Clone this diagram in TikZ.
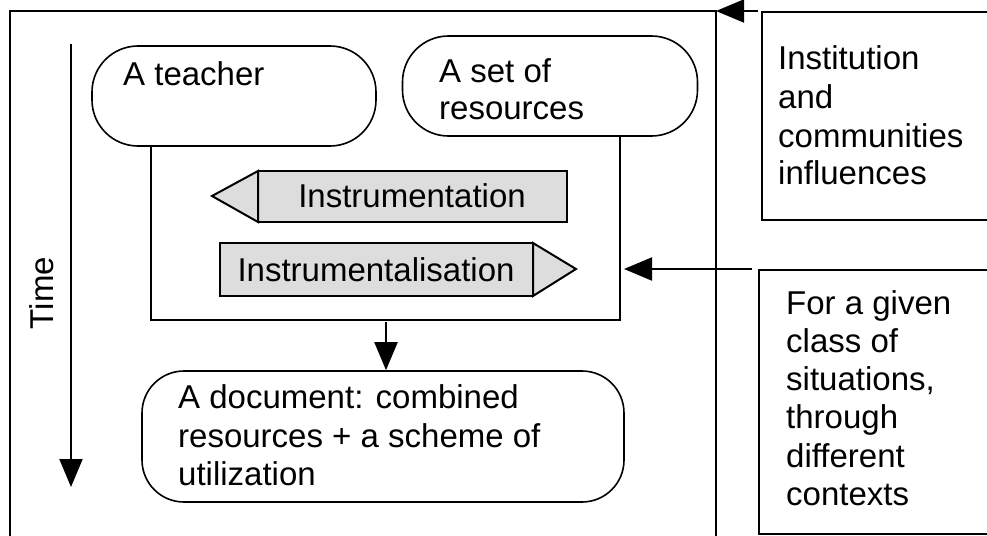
\documentclass[tikz,border=0pt]{standalone}
\usepackage{fontspec}
\setmainfont{Liberation Sans}
\usetikzlibrary{arrows.meta}
\definecolor{boxgray}{RGB}{221,221,221}
\begin{document}
\begin{tikzpicture}[x=1pt,y=-1pt,
  line/.style={line width=2pt},
  pill/.style={draw, line width=1.6pt, rounded corners=#1, inner sep=0pt},
  plainbox/.style={draw, line width=2pt, inner sep=0pt},
  txt/.style={inner sep=0pt, anchor=base west, font=\fontsize{33}{38.5}\selectfont, align=left},
  ctxt/.style={inner sep=0pt, font=\fontsize{33}{38.5}\selectfont},
  tip/.style={-{Triangle[length=28pt,width=23pt]}},
  shade/.style={draw, line width=2pt, fill=boxgray, line join=miter}
]
\useasboundingbox (0,0) rectangle (987,535);
\clip (0,0) rectangle (987,535);

% outer frame
\coordinate (fbl) at (10,545);
\coordinate (ftl) at (10,11);
\coordinate (ftr) at (716,11);
\coordinate (fbr) at (716,545);
\draw[line] (fbl) -- (ftl) -- (ftr) -- (fbr);

% right boxes
\node[plainbox, minimum width=260pt, minimum height=208pt, anchor=north west] (inst) at (761,11) {};
\node[plainbox, minimum width=260pt, minimum height=264pt, anchor=north west] (given) at (758,269) {};
\node[txt] (insttxt) at (778,70) {Institution};
\node[txt] at (778,108) {and};
\node[txt] at (778,147) {communities};
\node[txt] at (778,184) {influences};
\node[txt] (giventxt) at (786,314) {For a given};
\node[txt] at (786,352) {class of};
\node[txt] at (786,390) {situations,};
\node[txt] at (786,428) {through};
\node[txt] at (786,467) {different};
\node[txt] at (786,505) {contexts};

% time arrow
\coordinate (t1) at (71,44);
\coordinate (t2) at (71,487);
\draw[line, tip] (t1) -- (t2);
\node[ctxt, rotate=90] (time) at (42,293) {Time};

% teacher and resources
\node[pill=46pt, minimum width=284pt, minimum height=100pt] (teacher) at (234,96) {};
\node[txt] (teachertxt) at (123,85) {A teacher};
\node[pill=46pt, minimum width=295pt, minimum height=100pt] (res) at (550,86) {};
\node[txt] (restxt) at (439,82) {A set of};
\node[txt] at (439,119) {resources};

% inner frame
\coordinate (i1) at (151,146);
\coordinate (i2) at (151,320);
\coordinate (i3) at (620,320);
\coordinate (i4) at (620,137);
\draw[line] (i1) -- (i2) -- (i3) -- (i4);

% instrumentation
\path[shade] (258,171) -- (567,171) -- (567,222) -- (258,222) -- cycle;
\path[shade] (258,171) -- (212,196) -- (258,222) -- cycle;
\node[ctxt] (instrumentation) at (412,196) {Instrumentation};

% instrumentalisation
\path[shade] (220,243) -- (533,243) -- (533,296) -- (220,296) -- cycle;
\path[shade] (533,243) -- (576,269) -- (533,296) -- cycle;
\node[ctxt] (instrumentalisation) at (376,270) {Instrumentalisation};

% document
\node[pill=42pt, minimum width=482pt, minimum height=131pt] (doc) at (383,436.5) {};
\node[txt] at (178,408) {A document: combined};
\node[txt] at (178,447) {resources + a scheme of};
\node[txt] at (178,485) {utilization};

% arrows
\coordinate (d1) at (386,322);
\draw[line, tip] (d1) -- (doc.north -| d1);
\coordinate (g1) at (752,269);
\coordinate (g2) at (624,269);
\draw[line, tip] (g1) -- (g2);
\draw[line, tip] (inst.north west) ++(-3,0) coordinate (a1) -- (ftr);
\end{tikzpicture}
\end{document}
